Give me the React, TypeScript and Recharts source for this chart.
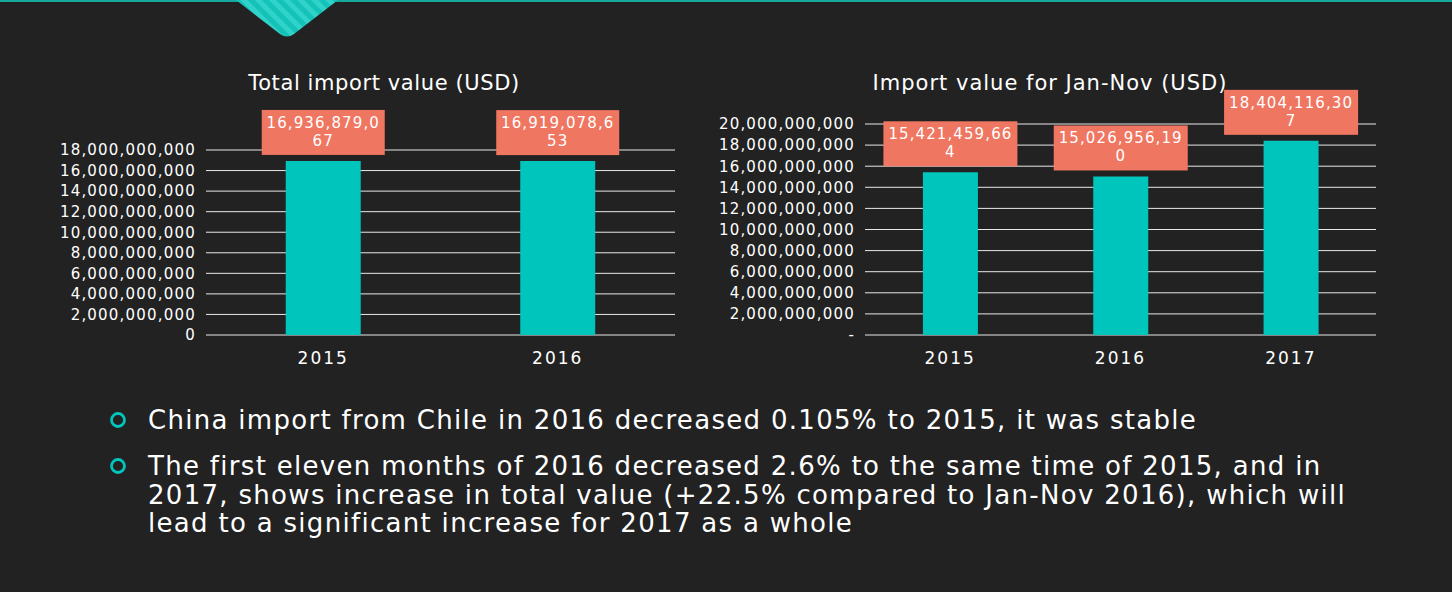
import { BarChart, Bar, XAxis, YAxis, CartesianGrid, LabelList } from 'recharts';

const totalYears = ['2015', '2016'];
const totalValues = [16936879067, 16919078653];

const janNovYears = ['2015', '2016', '2017'];
const janNovValues = [15421459664, 15026956190, 18404116307];

const totalTicks = [0, 2e9, 4e9, 6e9, 8e9, 10e9, 12e9, 14e9, 16e9, 18e9];
const janNovTicks = [0, 2e9, 4e9, 6e9, 8e9, 10e9, 12e9, 14e9, 16e9, 18e9, 20e9];

const bullets = [
  ['China import from Chile in 2016 decreased 0.105% to 2015, it was stable'],
  [
    'The first eleven months of 2016 decreased 2.6% to the same time of 2015, and in',
    '2017, shows increase in total value (+22.5% compared to Jan-Nov 2016), which will',
    'lead to a significant increase for 2017 as a whole',
  ],
];

const BG = '#222222';
const TEAL = '#00c5bd';
const ORANGE = '#ef7661';
const FONT = '"DejaVu Sans", sans-serif';

const fmt = (v: number) => v.toLocaleString('en-US');

// excel wraps the data label inside a fixed box, so split at a char count
function makeLabel(boxW: number, chunk: number) {
  return (props: any) => {
    const { x, y, width, value } = props;
    const s = fmt(Number(value));
    const cx = Number(x) + Number(width) / 2;
    const top = Number(y) - 6 - 45;
    const txt = { textAnchor: 'middle' as const, dominantBaseline: 'central' as const, fill: '#fff', fontSize: 15, fontFamily: FONT, style: { letterSpacing: 1.1 } };
    return (
      <g>
        <rect x={cx - boxW / 2} y={top} width={boxW} height={45} fill={ORANGE} />
        <text x={cx} y={top + 13} {...txt}>
          {s.slice(0, chunk)}
        </text>
        <text x={cx} y={top + 31} {...txt}>
          {s.slice(chunk)}
        </text>
      </g>
    );
  };
}

export default function App() {
  const totalData = totalYears.map((y, i) => ({ year: y, value: totalValues[i] }));
  const janNovData = janNovYears.map((y, i) => ({ year: y, value: janNovValues[i] }));

  const yTick = { fill: '#fff', fontSize: 15, fontFamily: FONT, style: { letterSpacing: 1.2 } };
  const xTick = { fill: '#fff', fontSize: 17, fontFamily: FONT, style: { letterSpacing: 2 } };

  return (
    <div
      style={{
        position: 'fixed',
        left: 0,
        top: 0,
        width: 1452,
        height: 592,
        background: BG,
        overflow: 'hidden',
        fontFamily: FONT,
        color: '#fff',
      }}
    >
      {/* top decoration */}
      <svg width={1452} height={42} style={{ position: 'absolute', left: 0, top: 0 }}>
        <defs>
          <pattern id="stripes" width="10" height="10" patternUnits="userSpaceOnUse" patternTransform="rotate(-45)">
            <rect width="10" height="10" fill="#14c2b8" />
            <rect width="5" height="10" fill="#2fd3c9" />
          </pattern>
        </defs>
        <rect x={0} y={0} width={1452} height={2} fill="#17a99c" />
        <path d="M236,0 L338,0 L294,34 Q287,39 280,34 Z" fill="url(#stripes)" />
      </svg>

      <div style={{ position: 'absolute', left: 184, width: 400, top: 71, textAlign: 'center', fontSize: 21, letterSpacing: 0.6 }}>
        Total import value (USD)
      </div>
      <div style={{ position: 'absolute', left: 850, width: 400, top: 71, textAlign: 'center', fontSize: 21, letterSpacing: 1 }}>
        Import value for Jan-Nov (USD)
      </div>

      <div style={{ position: 'absolute', left: 40, top: 60 }}>
        <BarChart
          width={660}
          height={320}
          data={totalData}
          margin={{ top: 90, right: 25, bottom: 0, left: 0 }}
          barCategoryGap="34%"
        >
          <CartesianGrid vertical={false} stroke="#e8e8e8" />
          <XAxis dataKey="year" axisLine={false} tickLine={false} tick={xTick} tickMargin={11} height={45} />
          <YAxis
            width={166}
            domain={[0, 18e9]}
            ticks={totalTicks}
            interval={0}
            axisLine={false}
            tickLine={false}
            tickMargin={4}
            tick={yTick}
            tickFormatter={(v: number) => fmt(v)}
          />
          <Bar dataKey="value" fill={TEAL} isAnimationActive={false}>
            <LabelList dataKey="value" content={makeLabel(123, 12)} />
          </Bar>
        </BarChart>
      </div>

      <div style={{ position: 'absolute', left: 700, top: 60 }}>
        <BarChart
          width={700}
          height={320}
          data={janNovData}
          margin={{ top: 64, right: 24, bottom: 0, left: 0 }}
          barCategoryGap="34%"
        >
          <CartesianGrid vertical={false} stroke="#e8e8e8" />
          <XAxis dataKey="year" axisLine={false} tickLine={false} tick={xTick} tickMargin={11} height={45} />
          <YAxis
            width={165}
            domain={[0, 20e9]}
            ticks={janNovTicks}
            interval={0}
            axisLine={false}
            tickLine={false}
            tickMargin={4}
            tick={yTick}
            tickFormatter={(v: number) => (v === 0 ? '-  ' : fmt(v))}
          />
          <Bar dataKey="value" fill={TEAL} isAnimationActive={false}>
            <LabelList dataKey="value" content={makeLabel(134, 13)} />
          </Bar>
        </BarChart>
      </div>

      {bullets.map((lines, i) => (
        <div key={i} style={{ position: 'absolute', left: 108, top: i === 0 ? 406 : 452 }}>
          <svg width={22} height={22} style={{ position: 'absolute', left: 0, top: 3 }}>
            <circle cx={10} cy={11} r={6.5} fill="none" stroke={TEAL} strokeWidth={2.8} />
          </svg>
          <div style={{ marginLeft: 40, fontSize: 26, letterSpacing: 1.3, lineHeight: '28.5px', whiteSpace: 'nowrap' }}>
            {lines.map((l, j) => (
              <div key={j}>{l}</div>
            ))}
          </div>
        </div>
      ))}
    </div>
  );
}
